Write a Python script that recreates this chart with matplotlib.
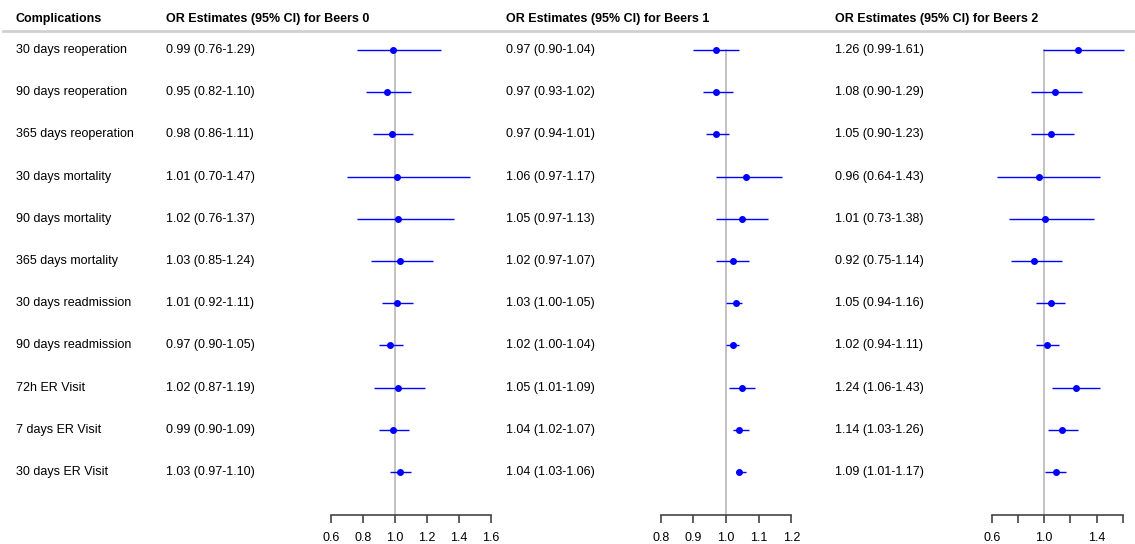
import numpy as np
import matplotlib
matplotlib.use("Agg")
import matplotlib.pyplot as plt

plt.rcParams["font.family"] = ["Liberation Sans", "DejaVu Sans"]

complications = ["30 days reoperation", "90 days reoperation", "365 days reoperation",
                 "30 days mortality", "90 days mortality", "365 days mortality",
                 "30 days readmission", "90 days readmission", "72h ER Visit",
                 "7 days ER Visit", "30 days ER Visit"]

or_b0 = [0.99, 0.95, 0.98, 1.01, 1.02, 1.03, 1.01, 0.97, 1.02, 0.99, 1.03]
lo_b0 = [0.76, 0.82, 0.86, 0.70, 0.76, 0.85, 0.92, 0.90, 0.87, 0.90, 0.97]
hi_b0 = [1.29, 1.10, 1.11, 1.47, 1.37, 1.24, 1.11, 1.05, 1.19, 1.09, 1.10]

or_b1 = [0.97, 0.97, 0.97, 1.06, 1.05, 1.02, 1.03, 1.02, 1.05, 1.04, 1.04]
lo_b1 = [0.90, 0.93, 0.94, 0.97, 0.97, 0.97, 1.00, 1.00, 1.01, 1.02, 1.03]
hi_b1 = [1.04, 1.02, 1.01, 1.17, 1.13, 1.07, 1.05, 1.04, 1.09, 1.07, 1.06]

or_b2 = [1.26, 1.08, 1.05, 0.96, 1.01, 0.92, 1.05, 1.02, 1.24, 1.14, 1.09]
lo_b2 = [0.99, 0.90, 0.90, 0.64, 0.73, 0.75, 0.94, 0.94, 1.06, 1.03, 1.01]
hi_b2 = [1.61, 1.29, 1.23, 1.43, 1.38, 1.14, 1.16, 1.11, 1.43, 1.26, 1.17]

ticks_b0 = [0.6, 0.8, 1.0, 1.2, 1.4, 1.6]
ticks_b1 = [0.8, 0.9, 1.0, 1.1, 1.2]
ticks_b2 = [0.6, 0.8, 1.0, 1.2, 1.4, 1.6]
ticklabels_b2 = ["0.6", "", "1.0", "", "1.4", ""]

W, H = 1135, 544
fig = plt.figure(figsize=(W / 100, H / 100), dpi=100)

FS = 9
row0, dy = 50, 42.2
ax_top, ax_bot = 50, 515
n = len(complications)


def fx(x):
    return x / W


def fy(y):
    return 1 - y / H


# header
fig.text(fx(16), fy(19), "Complications", fontsize=FS, fontweight="bold", va="center")
fig.add_artist(plt.Line2D([fx(3), 1], [fy(31), fy(31)], color="#d0d0d0", lw=2))

for i, c in enumerate(complications):
    fig.text(fx(16), fy(row0 + dy * i), c, fontsize=FS, va="center")

panels = [
    ("Beers 0", or_b0, lo_b0, hi_b0, 166, (331, 491), ticks_b0, None),
    ("Beers 1", or_b1, lo_b1, hi_b1, 506, (660.7, 791.3), ticks_b1, None),
    ("Beers 2", or_b2, lo_b2, hi_b2, 835, (991.7, 1122.7), ticks_b2, ticklabels_b2),
]

for name, est, lo, hi, tx, (px0, px1), ticks, tlabels in panels:
    fig.text(fx(tx), fy(19), "OR Estimates (95% CI) for " + name,
             fontsize=FS, fontweight="bold", va="center")
    for i in range(n):
        fig.text(fx(tx), fy(row0 + dy * i),
                 "%.2f (%.2f-%.2f)" % (est[i], lo[i], hi[i]), fontsize=FS, va="center")

    ax = fig.add_axes([fx(px0), fy(ax_bot), (px1 - px0) / W, (ax_bot - ax_top) / H])
    ax.set_xlim(ticks[0], ticks[-1])
    ybot = -(ax_bot - row0) / dy
    ax.set_ylim(ybot, 0)
    ax.patch.set_alpha(0)
    ax.plot([1, 1], [0, ybot], color="#b8b8b8", lw=1.2, clip_on=False, zorder=1)
    y = -np.arange(n)
    ax.hlines(y, lo, hi, color="#0000ff", lw=1.0, clip_on=False, zorder=2)
    ax.plot(est, y, "o", color="#0000ff", ms=4, clip_on=False, zorder=3)
    for s in ["left", "top", "right"]:
        ax.spines[s].set_visible(False)
    ax.spines["bottom"].set_color("#444444")
    ax.spines["bottom"].set_linewidth(1.2)
    ax.set_yticks([])
    ax.set_xticks(ticks)
    ax.set_xticklabels(tlabels if tlabels else ["%.1f" % t for t in ticks])
    ax.tick_params(axis="x", length=6, width=1.2, color="#444444", labelsize=FS, pad=6)

fig.savefig("out.png", dpi=100)
